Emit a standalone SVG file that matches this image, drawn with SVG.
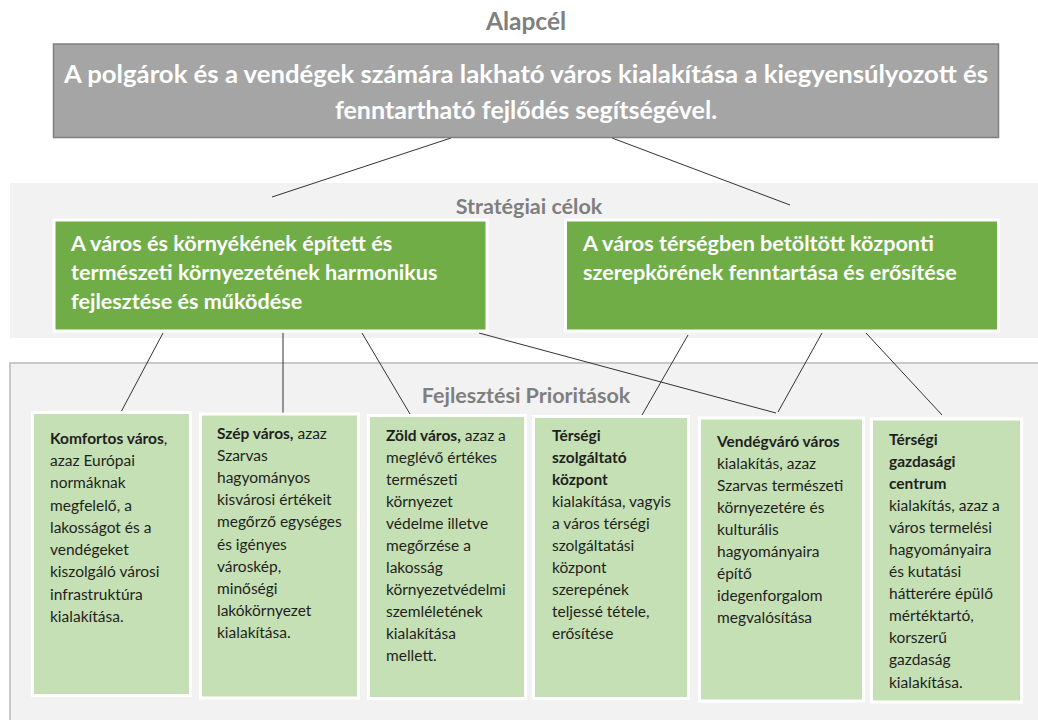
<svg xmlns="http://www.w3.org/2000/svg" width="1038" height="720" viewBox="0 0 1038 720">
<style>
  text { font-family: Lato, "Open Sans", "Liberation Sans", sans-serif; }
  .hdr { font-weight: bold; fill: #7f7f7f; text-anchor: middle; }
  .top { fill: #a5a5a5; stroke: #7f7f7f; stroke-width: 1.5; }
  .toptxt { font-weight: bold; fill: #ffffff; font-size: 25px; text-anchor: middle; }
  .goal { fill: #70ad47; stroke: #ffffff; stroke-width: 3; }
  .goaltxt { font-weight: bold; fill: #ffffff; font-size: 21.6px; }
  .prio { fill: #c5e0b4; stroke: #ffffff; stroke-width: 3; }
  .ptxt { fill: #1f1f1f; font-size: 15.5px; }
  .b { font-weight: bold; }
  .conn line { stroke: #333333; stroke-width: 1; }
</style>
<rect x="0" y="0" width="1038" height="720" fill="#ffffff"/>
<g id="band-strategic">
  <rect x="10" y="183" width="1028" height="155" fill="#f2f2f2"/>
</g>
<g id="band-priorities">
  <rect x="10" y="363" width="1028" height="357" fill="#f2f2f2"/>
  <path d="M10 720 V363 H1038" fill="none" stroke="#c9c9c9" stroke-width="2"/>
</g>
<text class="hdr" x="526" y="30" font-size="24.5">Alapcél</text>
<text class="hdr" x="529" y="214" font-size="21.5">Stratégiai célok</text>
<text class="hdr" x="526" y="403" font-size="21.5">Fejlesztési Prioritások</text>

<g class="conn" id="connectors">
  <line x1="451" y1="138" x2="272" y2="197"/>
  <line x1="612" y1="138" x2="790" y2="205"/>
  <line x1="163" y1="333" x2="121" y2="412"/>
  <line x1="283" y1="333" x2="283" y2="414"/>
  <line x1="362" y1="333" x2="410" y2="414"/>
  <line x1="479" y1="333" x2="776" y2="413"/>
  <line x1="688" y1="335" x2="642" y2="415"/>
  <line x1="822" y1="333" x2="778" y2="412"/>
  <line x1="866" y1="333" x2="942" y2="415"/>
</g>

<g id="alapcel">
  <rect class="top" x="53.5" y="44" width="945" height="93.5"/>
  <text class="toptxt" x="526" y="83" textLength="924" lengthAdjust="spacingAndGlyphs">A polgárok és a vendégek számára lakható város kialakítása a kiegyensúlyozott és</text>
  <text class="toptxt" x="526" y="119">fenntartható fejlődés segítségével.</text>
</g>

<g id="cel1">
  <rect class="goal" x="54" y="220" width="433" height="111"/>
  <text class="goaltxt" x="71" y="251">A város és környékének épített és</text>
  <text class="goaltxt" x="71" y="280">természeti környezetének harmonikus</text>
  <text class="goaltxt" x="71" y="309">fejlesztése és működése</text>
</g>
<g id="cel2">
  <rect class="goal" x="565.5" y="220" width="433" height="111"/>
  <text class="goaltxt" x="583" y="251">A város térségben betöltött központi</text>
  <text class="goaltxt" x="583" y="280">szerepkörének fenntartása és erősítése</text>
</g>

<g id="prio1">
  <rect class="prio" x="32.5" y="412.5" width="158" height="283"/>
  <text class="ptxt" x="50" y="444"><tspan class="b">Komfortos város</tspan>,</text>
  <text class="ptxt" x="50" y="466">azaz Európai</text>
  <text class="ptxt" x="50" y="488">normáknak</text>
  <text class="ptxt" x="50" y="511">megfelelő, a</text>
  <text class="ptxt" x="50" y="533">lakosságot és a</text>
  <text class="ptxt" x="50" y="555">vendégeket</text>
  <text class="ptxt" x="50" y="577">kiszolgáló városi</text>
  <text class="ptxt" x="50" y="600">infrastruktúra</text>
  <text class="ptxt" x="50" y="622">kialakítása.</text>
</g>
<g id="prio2">
  <rect class="prio" x="200.5" y="414" width="158" height="284"/>
  <text class="ptxt" x="217" y="439"><tspan class="b">Szép város,</tspan> azaz</text>
  <text class="ptxt" x="217" y="461">Szarvas</text>
  <text class="ptxt" x="217" y="483">hagyományos</text>
  <text class="ptxt" x="217" y="505">kisvárosi értékeit</text>
  <text class="ptxt" x="217" y="527">megőrző egységes</text>
  <text class="ptxt" x="217" y="550">és igényes</text>
  <text class="ptxt" x="217" y="572">városkép,</text>
  <text class="ptxt" x="217" y="594">minőségi</text>
  <text class="ptxt" x="217" y="616">lakókörnyezet</text>
  <text class="ptxt" x="217" y="638">kialakítása.</text>
</g>
<g id="prio3">
  <rect class="prio" x="368.5" y="415.5" width="157" height="283"/>
  <text class="ptxt" x="386" y="441"><tspan class="b">Zöld város,</tspan> azaz a</text>
  <text class="ptxt" x="386" y="463">meglévő értékes</text>
  <text class="ptxt" x="386" y="485">természeti</text>
  <text class="ptxt" x="386" y="507">környezet</text>
  <text class="ptxt" x="386" y="529">védelme illetve</text>
  <text class="ptxt" x="386" y="551">megőrzése a</text>
  <text class="ptxt" x="386" y="573">lakosság</text>
  <text class="ptxt" x="386" y="595">környezetvédelmi</text>
  <text class="ptxt" x="386" y="617">szemléletének</text>
  <text class="ptxt" x="386" y="639">kialakítása</text>
  <text class="ptxt" x="386" y="661">mellett.</text>
</g>
<g id="prio4">
  <rect class="prio" x="533.5" y="416.5" width="155" height="282"/>
  <text class="ptxt b" x="552" y="441">Térségi</text>
  <text class="ptxt b" x="552" y="463">szolgáltató</text>
  <text class="ptxt b" x="552" y="485">központ</text>
  <text class="ptxt" x="552" y="507">kialakítása, vagyis</text>
  <text class="ptxt" x="552" y="529">a város térségi</text>
  <text class="ptxt" x="552" y="551">szolgáltatási</text>
  <text class="ptxt" x="552" y="573">központ</text>
  <text class="ptxt" x="552" y="595">szerepének</text>
  <text class="ptxt" x="552" y="617">teljessé tétele,</text>
  <text class="ptxt" x="552" y="639">erősítése</text>
</g>
<g id="prio5">
  <rect class="prio" x="699.5" y="418" width="164" height="283"/>
  <text class="ptxt b" x="717" y="447">Vendégváró város</text>
  <text class="ptxt" x="717" y="469">kialakítás, azaz</text>
  <text class="ptxt" x="717" y="491">Szarvas természeti</text>
  <text class="ptxt" x="717" y="513">környezetére és</text>
  <text class="ptxt" x="717" y="535">kulturális</text>
  <text class="ptxt" x="717" y="557">hagyományaira</text>
  <text class="ptxt" x="717" y="579">építő</text>
  <text class="ptxt" x="717" y="601">idegenforgalom</text>
  <text class="ptxt" x="717" y="623">megvalósítása</text>
</g>
<g id="prio6">
  <rect class="prio" x="871.5" y="419" width="150" height="283"/>
  <text class="ptxt b" x="889" y="445">Térségi</text>
  <text class="ptxt b" x="889" y="467">gazdasági</text>
  <text class="ptxt b" x="889" y="489">centrum</text>
  <text class="ptxt" x="889" y="511">kialakítás, azaz a</text>
  <text class="ptxt" x="889" y="533">város termelési</text>
  <text class="ptxt" x="889" y="555">hagyományaira</text>
  <text class="ptxt" x="889" y="577">és kutatási</text>
  <text class="ptxt" x="889" y="599">hátterére épülő</text>
  <text class="ptxt" x="889" y="621">mértéktartó,</text>
  <text class="ptxt" x="889" y="643">korszerű</text>
  <text class="ptxt" x="889" y="665">gazdaság</text>
  <text class="ptxt" x="889" y="688">kialakítása.</text>
</g>
</svg>
